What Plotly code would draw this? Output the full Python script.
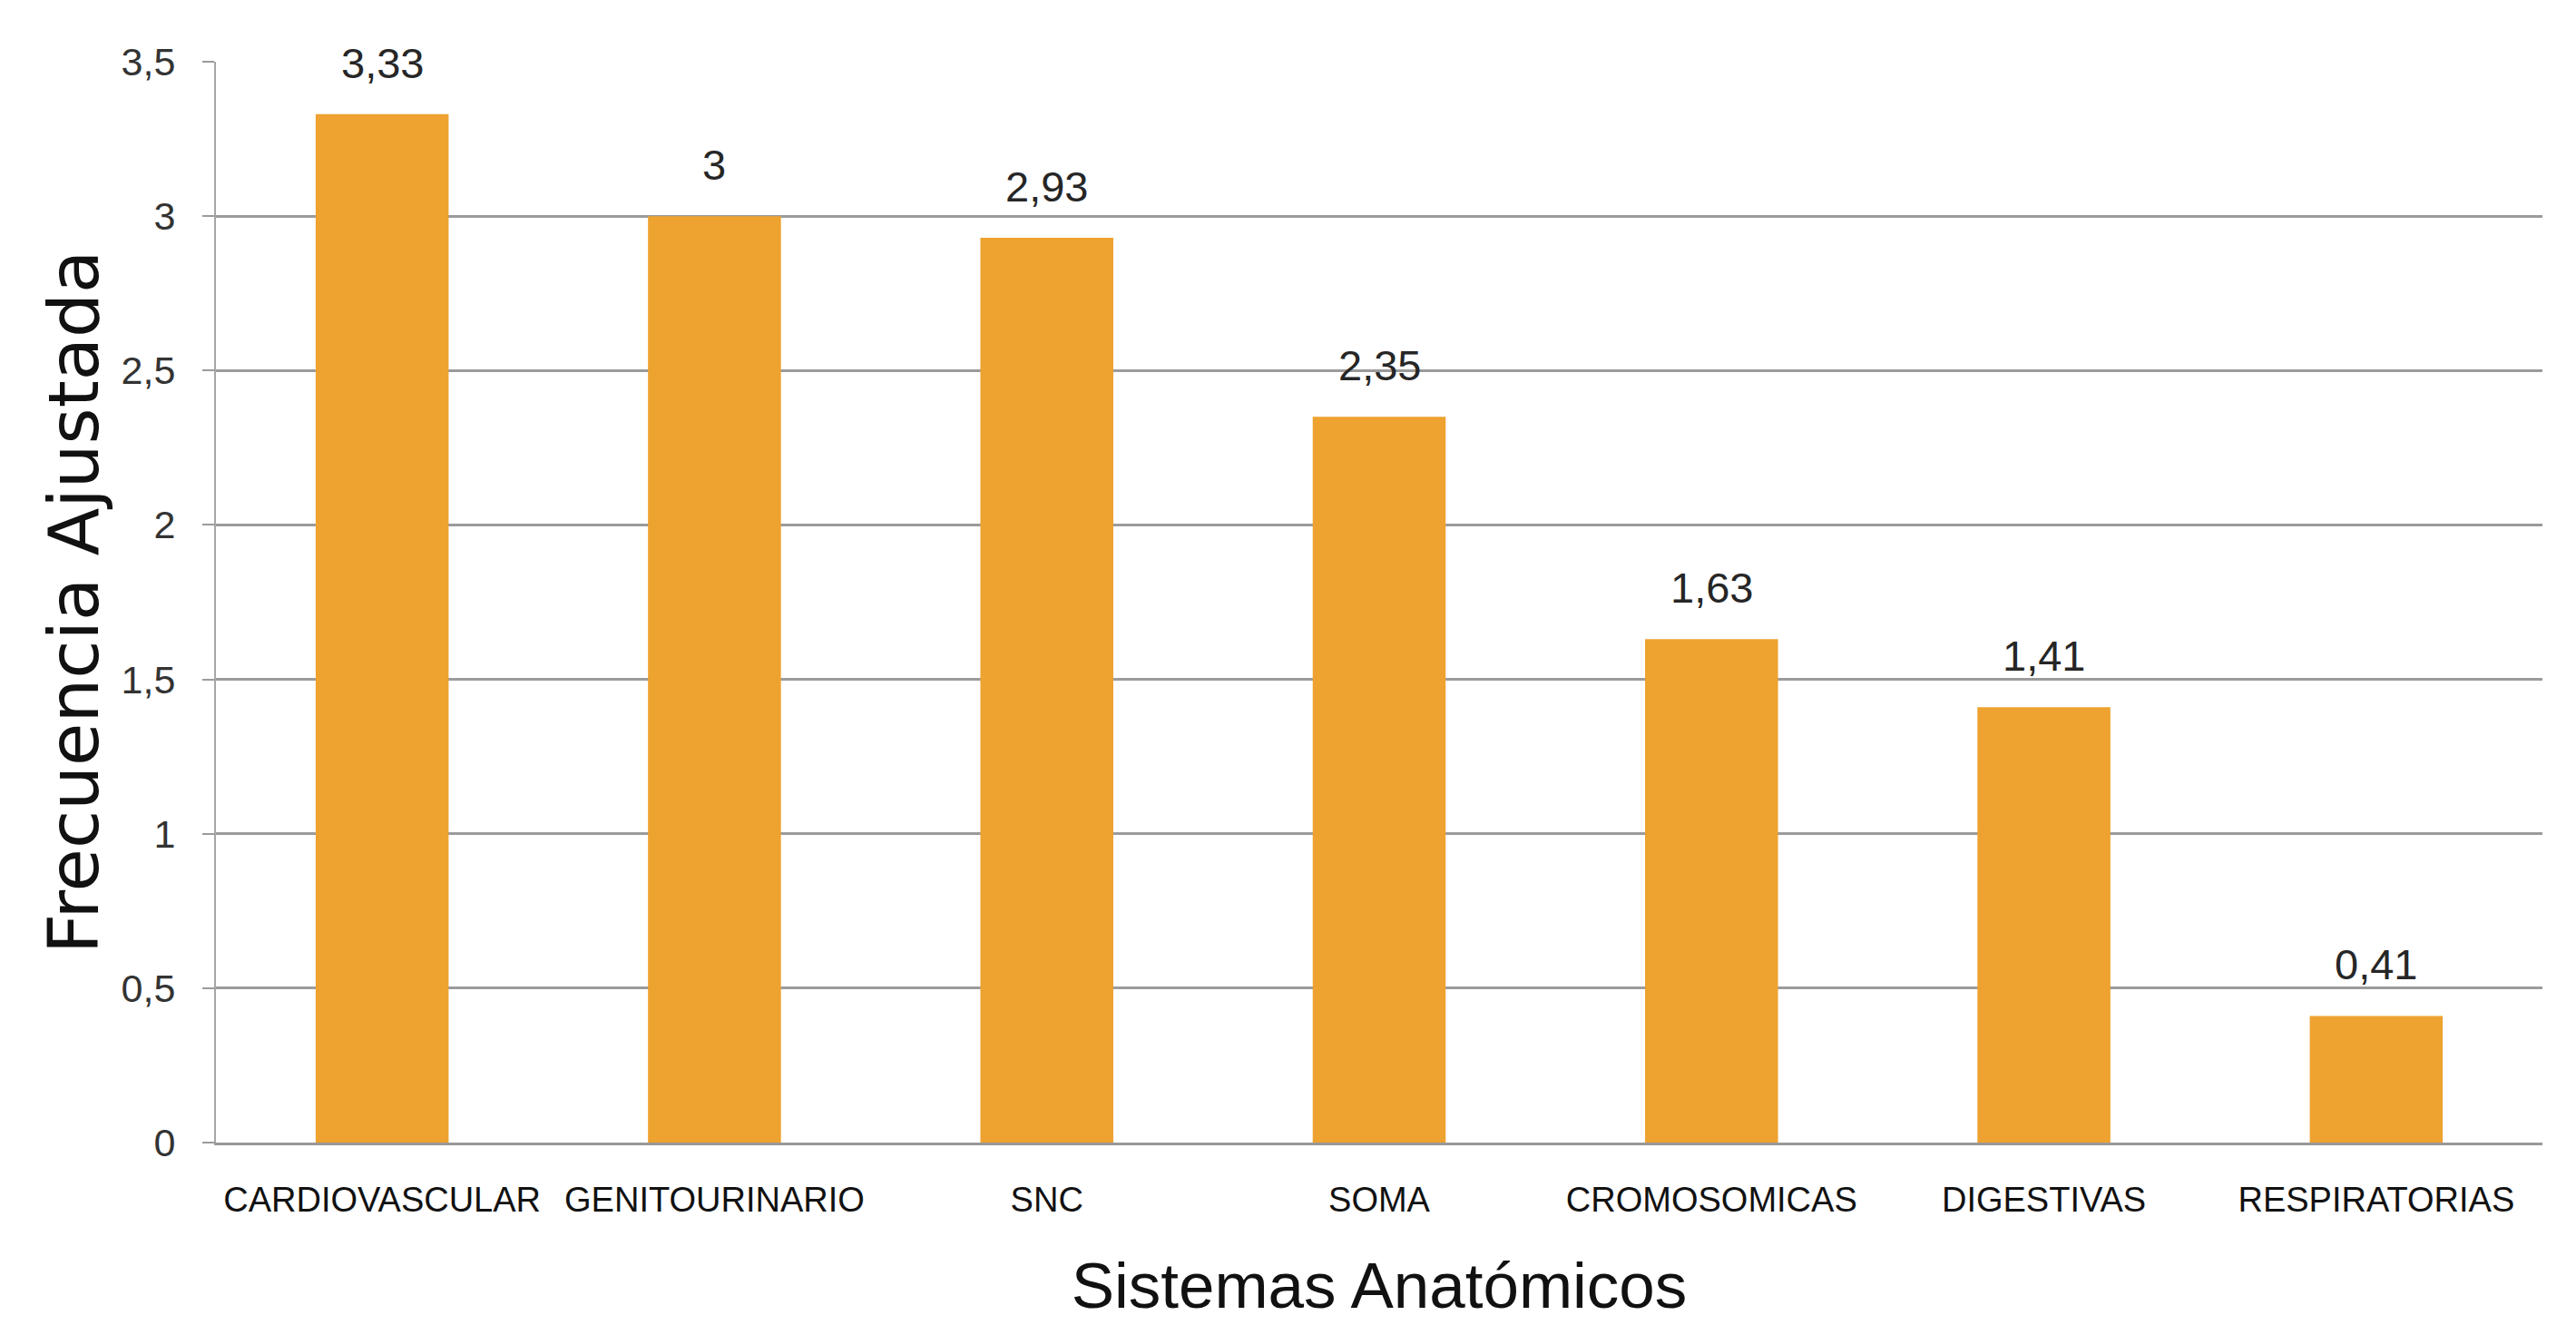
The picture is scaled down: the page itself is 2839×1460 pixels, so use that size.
import plotly.graph_objects as go

categories = ["CARDIOVASCULAR", "GENITOURINARIO", "SNC", "SOMA",
              "CROMOSOMICAS", "DIGESTIVAS", "RESPIRATORIAS"]
values = [3.33, 3.0, 2.93, 2.35, 1.63, 1.41, 0.41]
y_ticks = [0, 0.5, 1, 1.5, 2, 2.5, 3, 3.5]

BAR_COLOR = "#EEA22F"
SANS = "Liberation Sans, Arial, sans-serif"

fig = go.Figure()
fig.add_trace(go.Bar(x=categories, y=values, marker=dict(color=BAR_COLOR, line=dict(width=0)),
                     width=0.4, hoverinfo="skip"))

for c, v in zip(categories, values):
    fig.add_annotation(x=c, y=v, xref="x", yref="y", text=f"{v:g}".replace(".", ","),
                       showarrow=False, yanchor="bottom", yshift=28,
                       font=dict(family=SANS, size=47, color="#262626"))

fig.update_layout(
    width=2823, height=1452,
    margin=dict(l=230, r=29, t=60, b=201),
    paper_bgcolor="white", plot_bgcolor="white",
    separators=",.",
    showlegend=False,
    bargap=0.6,
)

fig.update_xaxes(
    automargin=False, tickangle=0,
    showline=True, linecolor="#999999", linewidth=3,
    showgrid=False, ticks="", ticklabelstandoff=27,
    tickfont=dict(family=SANS, size=38, color="#111111"),
    title=dict(text="Sistemas Anatómicos", standoff=50,
               font=dict(family=SANS, size=71, color="#111111")),
)
fig.update_yaxes(
    automargin=False,
    range=[0, 3.5], tickvals=y_ticks,
    showline=True, linecolor="#a6a6a6", linewidth=2,
    showgrid=True, gridcolor="#9b9b9b", gridwidth=2.5,
    ticks="outside", ticklen=13, tickcolor="#9b9b9b", tickwidth=2,
    ticklabelstandoff=21,
    tickfont=dict(family=SANS, size=43, color="#333333"),
    zeroline=False,
    title=dict(text="Frecuencia Ajustada", standoff=0,
               font=dict(family="DejaVu Sans, sans-serif", size=77, color="#111111")),
)

fig.write_html("out.html")
